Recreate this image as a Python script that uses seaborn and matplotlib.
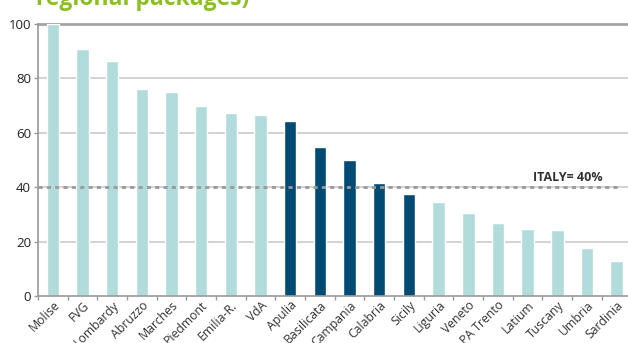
import matplotlib
matplotlib.use("Agg")
import matplotlib.pyplot as plt
import seaborn as sns
import pandas as pd
import numpy as np

regions = ["Molise", "FVG", "Lombardy", "Abruzzo", "Marches", "Piedmont", "Emilia-R.",
           "VdA", "Apulia", "Basilicata", "Campania", "Calabria", "Sicily", "Liguria",
           "Veneto", "PA Trento", "Latium", "Tuscany", "Umbria", "Sardinia"]
values = [100, 90.9, 86.5, 76.2, 74.9, 70.0, 67.3, 66.5, 64.3, 54.8, 50.0, 41.5,
          37.5, 34.6, 30.4, 26.7, 24.6, 24.4, 17.6, 13.0]
highlighted = ["Apulia", "Basilicata", "Campania", "Calabria", "Sicily"]
italy_avg = 40
avg_label = "ITALY= 40%"
title = "regional packages)"

sns.set_theme(style="white")
plt.rcParams["font.family"] = ["Open Sans", "DejaVu Sans"]

df = pd.DataFrame({"region": regions, "value": values})
df["group"] = np.where(df["region"].isin(highlighted), "south", "other")

fig = plt.figure(figsize=(6.28, 3.43), dpi=100)
ax = fig.add_axes([38 / 628, 1 - 296 / 343, (631.5 - 38) / 628, (296 - 24) / 343])

sns.barplot(data=df, x="region", y="value", hue="group",
            palette={"other": "#b2dcdb", "south": "#004a73"},
            dodge=False, width=0.42, legend=False, ax=ax, saturation=1)

ax.set_ylim(0, 100)
ax.set_xlim(-0.5, len(regions) - 0.5)
ax.set_yticks([0, 20, 40, 60, 80, 100])

# light horizontal gridlines, heavier rule at the top
for yv in [20, 40, 60, 80]:
    ax.axhline(yv, color="#c6c6c6", lw=1.1, zorder=0.5)
ax.axhline(100, color="#a3a3a3", lw=2.0, zorder=0.5, clip_on=False)

# national average reference line
ax.plot([-0.5, 19.05], [italy_avg, italy_avg], color="#9a9a9a", lw=2.0,
        dashes=(1.5, 1.5), zorder=3)
ax.text(17.35, italy_avg + 1.0, avg_label, ha="center", va="bottom",
        fontsize=9, fontweight="bold", color="#333333", zorder=4)

for s in ["top", "right"]:
    ax.spines[s].set_visible(False)
for s in ["left", "bottom"]:
    ax.spines[s].set_color("#999999")
    ax.spines[s].set_linewidth(1.2)

ax.set_xlabel("")
ax.set_ylabel("")
ax.tick_params(axis="y", left=True, length=3, width=1, color="#999999",
               labelsize=9.5, labelcolor="#222222", pad=2)
ax.tick_params(axis="x", bottom=False, length=0, labelsize=8.8,
               labelcolor="#333333", pad=2)
ax.set_xticks(range(len(regions)))
ax.set_xticklabels(regions, rotation=45, ha="right", rotation_mode="anchor")
ax.set_xticks(np.arange(-0.5, len(regions), 1.0), minor=True)
ax.tick_params(axis="x", which="minor", bottom=True, length=3, width=1,
               color="#999999")

fig.text(36 / 628, 1 - 5 / 343, title, ha="left", va="baseline",
         fontsize=16.5, fontweight="bold", color="#8dbf24")

fig.savefig("out.png", dpi=100)
